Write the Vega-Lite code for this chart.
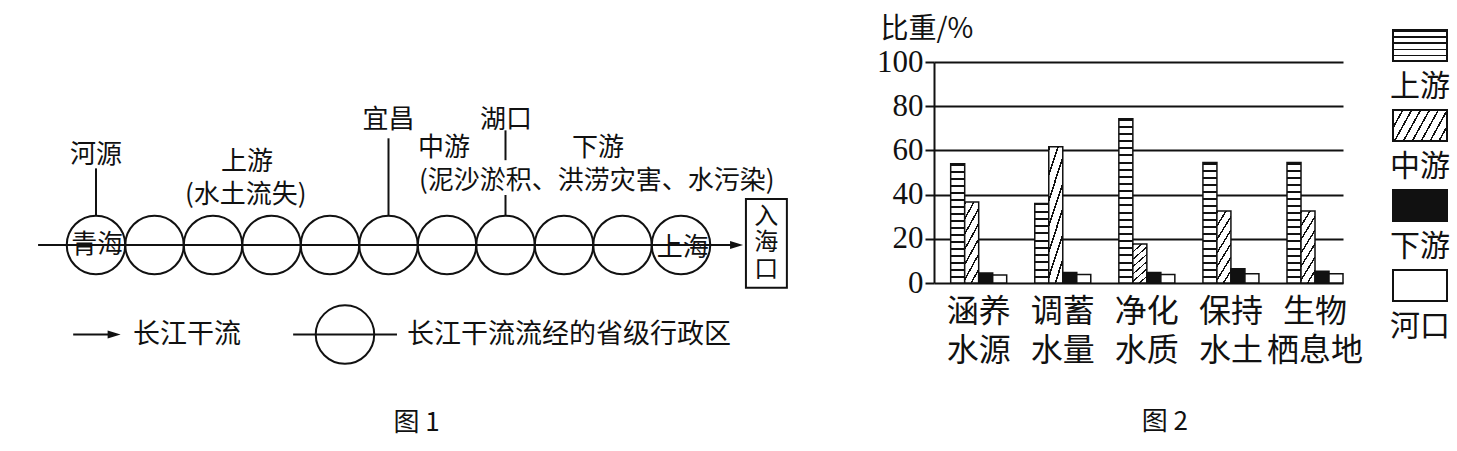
{
"$schema": "https://vega.github.io/schema/vega-lite/v6.json",
"width": 1457, "height": 451, "padding": 0,
"autosize": {"type": "fit", "contains": "padding"},
"background": "white",
"config": {"view": {"stroke": null}, "font": "Noto Sans CJK SC"},
"datasets": {
 "bars": [
  {"func":"涵养水源","seg":"上游","v":54},{"func":"涵养水源","seg":"中游","v":36.6},{"func":"涵养水源","seg":"下游","v":4.5},{"func":"涵养水源","seg":"河口","v":3.6},
  {"func":"调蓄水量","seg":"上游","v":36},{"func":"调蓄水量","seg":"中游","v":61.6},{"func":"调蓄水量","seg":"下游","v":4.7},{"func":"调蓄水量","seg":"河口","v":3.8},
  {"func":"净化水质","seg":"上游","v":74.3},{"func":"净化水质","seg":"中游","v":17.7},{"func":"净化水质","seg":"下游","v":4.8},{"func":"净化水质","seg":"河口","v":3.8},
  {"func":"保持水土","seg":"上游","v":54.5},{"func":"保持水土","seg":"中游","v":32.6},{"func":"保持水土","seg":"下游","v":6.5},{"func":"保持水土","seg":"河口","v":4.2},
  {"func":"生物栖息地","seg":"上游","v":54.5},{"func":"生物栖息地","seg":"中游","v":32.6},{"func":"生物栖息地","seg":"下游","v":5.3},{"func":"生物栖息地","seg":"河口","v":4.2}
 ],
 "legend": [{"seg":"上游"},{"seg":"中游"},{"seg":"下游"},{"seg":"河口"}],
 "hlines": [{"x0":-0.99,"x1":10.9,"y":0},{"x0":-0.39,"x1":0.25,"y":-1.53},{"x0":3.37,"x1":5.145,"y":-1.53}],
 "vlines": [{"x":0,"y0":1.31,"y1":0.5},{"x":5,"y0":1.824,"y1":0.5},{"x":7,"y0":1.96,"y1":1.45},{"x":7,"y0":0.855,"y1":0.5}],
 "arrows": [{"x":10.95,"y":0},{"x":0.31,"y":-1.53}],
 "circles": [{"x":0,"y":0},{"x":1,"y":0},{"x":2,"y":0},{"x":3,"y":0},{"x":4,"y":0},{"x":5,"y":0},{"x":6,"y":0},{"x":7,"y":0},{"x":8,"y":0},{"x":9,"y":0},{"x":10,"y":0},{"x":4.256,"y":-1.53}],
 "box": [{"x0":11.11,"x1":11.81,"y0":0.786,"y1":-0.73}],
 "ctexts": [
  {"x":0.02,"y":0,"t":"青海"},{"x":10.03,"y":-0.05,"t":"上海"},{"x":0,"y":1.538,"t":"河源"},
  {"x":2.58,"y":1.419,"t":"上游"},{"x":2.56,"y":0.855,"t":"(水土流失)"},
  {"x":5,"y":2.137,"t":"宜昌"},{"x":7.01,"y":2.137,"t":"湖口"},
  {"x":5.95,"y":1.66,"t":"中游"},{"x":8.58,"y":1.66,"t":"下游"},
  {"x":8.56,"y":1.1,"t":"(泥沙淤积、洪涝灾害、水污染)"},
  {"x":5.479,"y":-3.043,"t":"图 1"},{"x":18.27,"y":-3.02,"t":"图 2"}
 ],
 "boxtexts": [{"x":11.456,"y":0.484,"t":"入\n海\n口"}],
 "ltexts": [{"x":0.632,"y":-1.53,"t":"长江干流"},{"x":5.316,"y":-1.53,"t":"长江干流流经的省级行政区"}]
},
"layer": [
 {
  "layer": [
   {"data":{"name":"hlines"},"mark":{"type":"rule","stroke":"#111","strokeWidth":2},
    "encoding":{"x":{"field":"x0","type":"quantitative","scale":{"domain":[-1.641,23.265],"range":[0,1457],"nice":false,"zero":false},"axis":null},"x2":{"field":"x1"},
     "y":{"field":"y","type":"quantitative","scale":{"domain":[-3.521,4.188],"range":[451,0],"nice":false,"zero":false},"axis":null}}},
   {"data":{"name":"vlines"},"mark":{"type":"rule","stroke":"#111","strokeWidth":2},
    "encoding":{"x":{"field":"x","type":"quantitative","scale":{"domain":[-1.641,23.265],"range":[0,1457],"nice":false,"zero":false},"axis":null},
     "y":{"field":"y0","type":"quantitative","scale":{"domain":[-3.521,4.188],"range":[451,0],"nice":false,"zero":false},"axis":null},"y2":{"field":"y1"}}},
   {"data":{"name":"circles"},"mark":{"type":"point","shape":"circle","filled":false,"stroke":"#111","strokeWidth":2,"opacity":1,"size":3422},
    "encoding":{"x":{"field":"x","type":"quantitative","scale":{"domain":[-1.641,23.265],"range":[0,1457],"nice":false,"zero":false},"axis":null},
     "y":{"field":"y","type":"quantitative","scale":{"domain":[-3.521,4.188],"range":[451,0],"nice":false,"zero":false},"axis":null}}},
   {"data":{"name":"arrows"},"mark":{"type":"point","shape":"M-1,-0.6L1,0L-1,0.6Z","filled":true,"fill":"#111","stroke":null,"opacity":1,"size":169},
    "encoding":{"x":{"field":"x","type":"quantitative","scale":{"domain":[-1.641,23.265],"range":[0,1457],"nice":false,"zero":false},"axis":null},
     "y":{"field":"y","type":"quantitative","scale":{"domain":[-3.521,4.188],"range":[451,0],"nice":false,"zero":false},"axis":null}}},
   {"data":{"name":"box"},"mark":{"type":"rect","fill":"#fff","stroke":"#111","strokeWidth":2},
    "encoding":{"x":{"field":"x0","type":"quantitative","scale":{"domain":[-1.641,23.265],"range":[0,1457],"nice":false,"zero":false},"axis":null},"x2":{"field":"x1"},
     "y":{"field":"y0","type":"quantitative","scale":{"domain":[-3.521,4.188],"range":[451,0],"nice":false,"zero":false},"axis":null},"y2":{"field":"y1"}}},
   {"data":{"name":"ctexts"},"mark":{"type":"text","align":"center","baseline":"middle","fontSize":26,"font":"Noto Sans CJK SC","color":"#111"},
    "encoding":{"x":{"field":"x","type":"quantitative","scale":{"domain":[-1.641,23.265],"range":[0,1457],"nice":false,"zero":false},"axis":null},
     "y":{"field":"y","type":"quantitative","scale":{"domain":[-3.521,4.188],"range":[451,0],"nice":false,"zero":false},"axis":null},"text":{"field":"t"}}},
   {"data":{"name":"boxtexts"},"mark":{"type":"text","align":"center","baseline":"middle","fontSize":24,"lineHeight":26.5,"lineBreak":"\n","font":"Noto Sans CJK SC","color":"#111"},
    "encoding":{"x":{"field":"x","type":"quantitative","scale":{"domain":[-1.641,23.265],"range":[0,1457],"nice":false,"zero":false},"axis":null},
     "y":{"field":"y","type":"quantitative","scale":{"domain":[-3.521,4.188],"range":[451,0],"nice":false,"zero":false},"axis":null},"text":{"field":"t"}}},
   {"data":{"name":"ltexts"},"mark":{"type":"text","align":"left","baseline":"middle","fontSize":27,"font":"Noto Sans CJK SC","color":"#111"},
    "encoding":{"x":{"field":"x","type":"quantitative","scale":{"domain":[-1.641,23.265],"range":[0,1457],"nice":false,"zero":false},"axis":null},
     "y":{"field":"y","type":"quantitative","scale":{"domain":[-3.521,4.188],"range":[451,0],"nice":false,"zero":false},"axis":null},"text":{"field":"t"}}}
  ]
 },
 {
  "data": {"name":"bars"},
  "mark": {"type":"bar","stroke":"#111","strokeWidth":1.5},
  "encoding": {
   "x": {"field":"func","type":"nominal","sort":null,
    "scale":{"range":[934,1343],"paddingInner":0.334,"paddingOuter":0.0993,"align":1},
    "axis":{"orient":"bottom","offset":-168,"title":null,"domain":false,"ticks":false,"tickSize":0,"grid":false,"labelAngle":0,"labelFontSize":32,"labelFont":"Noto Sans CJK SC","labelColor":"#111","labelPadding":13,"labelLineHeight":39,"labelExpr":"[substring(datum.label,0,2), substring(datum.label,2)]"}},
   "xOffset": {"field":"seg","type":"nominal","scale":{"domain":["上游","中游","下游","河口"],"paddingInner":0,"paddingOuter":0}},
   "y": {"field":"v","type":"quantitative","scale":{"domain":[0,100],"range":[283,62],"nice":false},
    "axis":{"orient":"left","offset":-934,"values":[0,20,40,60,80,100],"grid":true,"gridColor":"#111","gridWidth":2,"gridOpacity":1,"domainColor":"#111","domainWidth":2,"tickColor":"#111","tickWidth":2,"tickSize":9,"labelFont":"Liberation Serif","labelFontSize":31,"labelColor":"#111","labelPadding":2,"labelFlush":false,"labelOverlap":false,"title":"比重/%","titleAngle":0,"titleX":-54,"titleY":29,"titleAlign":"left","titleBaseline":"middle","titleFont":"Noto Sans CJK SC","titleFontSize":28,"titleFontWeight":"normal","titleColor":"#111"}},
   "fill": {"condition": [
     {"test":"datum.seg === '上游' && datum.v < 45","value":{"gradient":"linear","x1":0,"y1":0,"x2":0,"y2":1,"stops":[
      {"offset":0,"color":"#111"},{"offset":0.0255,"color":"#111"},{"offset":0.0255,"color":"#fff"},{"offset":0.0909,"color":"#fff"},
      {"offset":0.0909,"color":"#111"},{"offset":0.1164,"color":"#111"},{"offset":0.1164,"color":"#fff"},{"offset":0.1818,"color":"#fff"},
      {"offset":0.1818,"color":"#111"},{"offset":0.2073,"color":"#111"},{"offset":0.2073,"color":"#fff"},{"offset":0.2727,"color":"#fff"},
      {"offset":0.2727,"color":"#111"},{"offset":0.2982,"color":"#111"},{"offset":0.2982,"color":"#fff"},{"offset":0.3636,"color":"#fff"},
      {"offset":0.3636,"color":"#111"},{"offset":0.3891,"color":"#111"},{"offset":0.3891,"color":"#fff"},{"offset":0.4545,"color":"#fff"},
      {"offset":0.4545,"color":"#111"},{"offset":0.48,"color":"#111"},{"offset":0.48,"color":"#fff"},{"offset":0.5455,"color":"#fff"},
      {"offset":0.5455,"color":"#111"},{"offset":0.571,"color":"#111"},{"offset":0.571,"color":"#fff"},{"offset":0.6364,"color":"#fff"},
      {"offset":0.6364,"color":"#111"},{"offset":0.6619,"color":"#111"},{"offset":0.6619,"color":"#fff"},{"offset":0.7273,"color":"#fff"},
      {"offset":0.7273,"color":"#111"},{"offset":0.7528,"color":"#111"},{"offset":0.7528,"color":"#fff"},{"offset":0.8182,"color":"#fff"},
      {"offset":0.8182,"color":"#111"},{"offset":0.8437,"color":"#111"},{"offset":0.8437,"color":"#fff"},{"offset":0.9091,"color":"#fff"},
      {"offset":0.9091,"color":"#111"},{"offset":0.9346,"color":"#111"},{"offset":0.9346,"color":"#fff"},{"offset":1,"color":"#fff"}]}},
     {"test":"datum.seg === '上游' && datum.v > 65","value":{"gradient":"linear","x1":0,"y1":0,"x2":0,"y2":1,"stops":[
      {"offset":0,"color":"#111"},{"offset":0.0122,"color":"#111"},{"offset":0.0122,"color":"#fff"},{"offset":0.0435,"color":"#fff"},
      {"offset":0.0435,"color":"#111"},{"offset":0.0557,"color":"#111"},{"offset":0.0557,"color":"#fff"},{"offset":0.087,"color":"#fff"},
      {"offset":0.087,"color":"#111"},{"offset":0.0991,"color":"#111"},{"offset":0.0991,"color":"#fff"},{"offset":0.1304,"color":"#fff"},
      {"offset":0.1304,"color":"#111"},{"offset":0.1426,"color":"#111"},{"offset":0.1426,"color":"#fff"},{"offset":0.1739,"color":"#fff"},
      {"offset":0.1739,"color":"#111"},{"offset":0.1861,"color":"#111"},{"offset":0.1861,"color":"#fff"},{"offset":0.2174,"color":"#fff"},
      {"offset":0.2174,"color":"#111"},{"offset":0.2296,"color":"#111"},{"offset":0.2296,"color":"#fff"},{"offset":0.2609,"color":"#fff"},
      {"offset":0.2609,"color":"#111"},{"offset":0.273,"color":"#111"},{"offset":0.273,"color":"#fff"},{"offset":0.3043,"color":"#fff"},
      {"offset":0.3043,"color":"#111"},{"offset":0.3165,"color":"#111"},{"offset":0.3165,"color":"#fff"},{"offset":0.3478,"color":"#fff"},
      {"offset":0.3478,"color":"#111"},{"offset":0.36,"color":"#111"},{"offset":0.36,"color":"#fff"},{"offset":0.3913,"color":"#fff"},
      {"offset":0.3913,"color":"#111"},{"offset":0.4035,"color":"#111"},{"offset":0.4035,"color":"#fff"},{"offset":0.4348,"color":"#fff"},
      {"offset":0.4348,"color":"#111"},{"offset":0.447,"color":"#111"},{"offset":0.447,"color":"#fff"},{"offset":0.4783,"color":"#fff"},
      {"offset":0.4783,"color":"#111"},{"offset":0.4904,"color":"#111"},{"offset":0.4904,"color":"#fff"},{"offset":0.5217,"color":"#fff"},
      {"offset":0.5217,"color":"#111"},{"offset":0.5339,"color":"#111"},{"offset":0.5339,"color":"#fff"},{"offset":0.5652,"color":"#fff"},
      {"offset":0.5652,"color":"#111"},{"offset":0.5774,"color":"#111"},{"offset":0.5774,"color":"#fff"},{"offset":0.6087,"color":"#fff"},
      {"offset":0.6087,"color":"#111"},{"offset":0.6209,"color":"#111"},{"offset":0.6209,"color":"#fff"},{"offset":0.6522,"color":"#fff"},
      {"offset":0.6522,"color":"#111"},{"offset":0.6643,"color":"#111"},{"offset":0.6643,"color":"#fff"},{"offset":0.6957,"color":"#fff"},
      {"offset":0.6957,"color":"#111"},{"offset":0.7078,"color":"#111"},{"offset":0.7078,"color":"#fff"},{"offset":0.7391,"color":"#fff"},
      {"offset":0.7391,"color":"#111"},{"offset":0.7513,"color":"#111"},{"offset":0.7513,"color":"#fff"},{"offset":0.7826,"color":"#fff"},
      {"offset":0.7826,"color":"#111"},{"offset":0.7948,"color":"#111"},{"offset":0.7948,"color":"#fff"},{"offset":0.8261,"color":"#fff"},
      {"offset":0.8261,"color":"#111"},{"offset":0.8383,"color":"#111"},{"offset":0.8383,"color":"#fff"},{"offset":0.8696,"color":"#fff"},
      {"offset":0.8696,"color":"#111"},{"offset":0.8817,"color":"#111"},{"offset":0.8817,"color":"#fff"},{"offset":0.913,"color":"#fff"},
      {"offset":0.913,"color":"#111"},{"offset":0.9252,"color":"#111"},{"offset":0.9252,"color":"#fff"},{"offset":0.9565,"color":"#fff"},
      {"offset":0.9565,"color":"#111"},{"offset":0.9687,"color":"#111"},{"offset":0.9687,"color":"#fff"},{"offset":1,"color":"#fff"}]}},
     {"test":"datum.seg === '上游'","value":{"gradient":"linear","x1":0,"y1":0,"x2":0,"y2":1,"stops":[
      {"offset":0,"color":"#111"},{"offset":0.0165,"color":"#111"},{"offset":0.0165,"color":"#fff"},{"offset":0.0588,"color":"#fff"},
      {"offset":0.0588,"color":"#111"},{"offset":0.0753,"color":"#111"},{"offset":0.0753,"color":"#fff"},{"offset":0.1176,"color":"#fff"},
      {"offset":0.1176,"color":"#111"},{"offset":0.1341,"color":"#111"},{"offset":0.1341,"color":"#fff"},{"offset":0.1765,"color":"#fff"},
      {"offset":0.1765,"color":"#111"},{"offset":0.1929,"color":"#111"},{"offset":0.1929,"color":"#fff"},{"offset":0.2353,"color":"#fff"},
      {"offset":0.2353,"color":"#111"},{"offset":0.2518,"color":"#111"},{"offset":0.2518,"color":"#fff"},{"offset":0.2941,"color":"#fff"},
      {"offset":0.2941,"color":"#111"},{"offset":0.3106,"color":"#111"},{"offset":0.3106,"color":"#fff"},{"offset":0.3529,"color":"#fff"},
      {"offset":0.3529,"color":"#111"},{"offset":0.3694,"color":"#111"},{"offset":0.3694,"color":"#fff"},{"offset":0.4118,"color":"#fff"},
      {"offset":0.4118,"color":"#111"},{"offset":0.4282,"color":"#111"},{"offset":0.4282,"color":"#fff"},{"offset":0.4706,"color":"#fff"},
      {"offset":0.4706,"color":"#111"},{"offset":0.4871,"color":"#111"},{"offset":0.4871,"color":"#fff"},{"offset":0.5294,"color":"#fff"},
      {"offset":0.5294,"color":"#111"},{"offset":0.5459,"color":"#111"},{"offset":0.5459,"color":"#fff"},{"offset":0.5882,"color":"#fff"},
      {"offset":0.5882,"color":"#111"},{"offset":0.6047,"color":"#111"},{"offset":0.6047,"color":"#fff"},{"offset":0.6471,"color":"#fff"},
      {"offset":0.6471,"color":"#111"},{"offset":0.6635,"color":"#111"},{"offset":0.6635,"color":"#fff"},{"offset":0.7059,"color":"#fff"},
      {"offset":0.7059,"color":"#111"},{"offset":0.7224,"color":"#111"},{"offset":0.7224,"color":"#fff"},{"offset":0.7647,"color":"#fff"},
      {"offset":0.7647,"color":"#111"},{"offset":0.7812,"color":"#111"},{"offset":0.7812,"color":"#fff"},{"offset":0.8235,"color":"#fff"},
      {"offset":0.8235,"color":"#111"},{"offset":0.84,"color":"#111"},{"offset":0.84,"color":"#fff"},{"offset":0.8824,"color":"#fff"},
      {"offset":0.8824,"color":"#111"},{"offset":0.8988,"color":"#111"},{"offset":0.8988,"color":"#fff"},{"offset":0.9412,"color":"#fff"},
      {"offset":0.9412,"color":"#111"},{"offset":0.9576,"color":"#111"},{"offset":0.9576,"color":"#fff"},{"offset":1,"color":"#fff"}]}},
     {"test":"datum.seg === '中游'","value":{"gradient":"linear","x1":0,"y1":0,"x2":0.377,"y2":1.196,"stops":[
      {"offset":0,"color":"#111"},{"offset":0.0286,"color":"#111"},{"offset":0.0286,"color":"#fff"},{"offset":0.1429,"color":"#fff"},
      {"offset":0.1429,"color":"#111"},{"offset":0.1714,"color":"#111"},{"offset":0.1714,"color":"#fff"},{"offset":0.2857,"color":"#fff"},
      {"offset":0.2857,"color":"#111"},{"offset":0.3143,"color":"#111"},{"offset":0.3143,"color":"#fff"},{"offset":0.4286,"color":"#fff"},
      {"offset":0.4286,"color":"#111"},{"offset":0.4571,"color":"#111"},{"offset":0.4571,"color":"#fff"},{"offset":0.5714,"color":"#fff"},
      {"offset":0.5714,"color":"#111"},{"offset":0.6,"color":"#111"},{"offset":0.6,"color":"#fff"},{"offset":0.7143,"color":"#fff"},
      {"offset":0.7143,"color":"#111"},{"offset":0.7429,"color":"#111"},{"offset":0.7429,"color":"#fff"},{"offset":0.8571,"color":"#fff"},
      {"offset":0.8571,"color":"#111"},{"offset":0.8857,"color":"#111"},{"offset":0.8857,"color":"#fff"},{"offset":1,"color":"#fff"}]}},
     {"test":"datum.seg === '下游'","value":"#111"}
    ],
    "value":"#fff"}
  }
 },
 {
  "data": {"name":"legend"},
  "layer": [
   {"mark":{"type":"rect","stroke":"#111","strokeWidth":2},
    "encoding":{
     "x":{"datum":0,"type":"quantitative","scale":{"domain":[0,1],"range":[1393,1447],"nice":false,"zero":false},"axis":null},
     "x2":{"datum":1},
     "y":{"field":"seg","type":"nominal","sort":null,"scale":{"domain":["上游","中游","下游","河口"],"range":[30,301],"paddingInner":0.6125,"paddingOuter":0},"axis":null},
     "fill":{"condition":[
      {"test":"datum.seg === '上游'","value":{"gradient":"linear","x1":0,"y1":0,"x2":0,"y2":1,"stops":[
       {"offset":0,"color":"#111"},{"offset":0.05,"color":"#111"},{"offset":0.05,"color":"#fff"},{"offset":0.2,"color":"#fff"},
       {"offset":0.2,"color":"#111"},{"offset":0.25,"color":"#111"},{"offset":0.25,"color":"#fff"},{"offset":0.4,"color":"#fff"},
       {"offset":0.4,"color":"#111"},{"offset":0.45,"color":"#111"},{"offset":0.45,"color":"#fff"},{"offset":0.6,"color":"#fff"},
       {"offset":0.6,"color":"#111"},{"offset":0.65,"color":"#111"},{"offset":0.65,"color":"#fff"},{"offset":0.8,"color":"#fff"},
       {"offset":0.8,"color":"#111"},{"offset":0.85,"color":"#111"},{"offset":0.85,"color":"#fff"},{"offset":1,"color":"#fff"}]}},
      {"test":"datum.seg === '中游'","value":{"gradient":"linear","x1":0,"y1":0,"x2":1.197,"y2":0.382,"stops":[
       {"offset":0,"color":"#111"},{"offset":0.025,"color":"#111"},{"offset":0.025,"color":"#fff"},{"offset":0.125,"color":"#fff"},
       {"offset":0.125,"color":"#111"},{"offset":0.15,"color":"#111"},{"offset":0.15,"color":"#fff"},{"offset":0.25,"color":"#fff"},
       {"offset":0.25,"color":"#111"},{"offset":0.275,"color":"#111"},{"offset":0.275,"color":"#fff"},{"offset":0.375,"color":"#fff"},
       {"offset":0.375,"color":"#111"},{"offset":0.4,"color":"#111"},{"offset":0.4,"color":"#fff"},{"offset":0.5,"color":"#fff"},
       {"offset":0.5,"color":"#111"},{"offset":0.525,"color":"#111"},{"offset":0.525,"color":"#fff"},{"offset":0.625,"color":"#fff"},
       {"offset":0.625,"color":"#111"},{"offset":0.65,"color":"#111"},{"offset":0.65,"color":"#fff"},{"offset":0.75,"color":"#fff"},
       {"offset":0.75,"color":"#111"},{"offset":0.775,"color":"#111"},{"offset":0.775,"color":"#fff"},{"offset":0.875,"color":"#fff"},
       {"offset":0.875,"color":"#111"},{"offset":0.9,"color":"#111"},{"offset":0.9,"color":"#fff"},{"offset":1,"color":"#fff"}]}},
      {"test":"datum.seg === '下游'","value":"#111"}],
      "value":"#fff"}
    }},
   {"mark":{"type":"text","dy":41.5,"fontSize":30,"font":"Noto Sans CJK SC","color":"#111","baseline":"middle","align":"center"},
    "encoding":{
     "x":{"datum":0.5,"type":"quantitative","scale":{"domain":[0,1],"range":[1393,1447],"nice":false,"zero":false},"axis":null},
     "y":{"field":"seg","type":"nominal","sort":null,"scale":{"domain":["上游","中游","下游","河口"],"range":[30,301],"paddingInner":0.6125,"paddingOuter":0},"axis":null},
     "text":{"field":"seg"}}}
  ]
 }
],
"resolve": {"scale": {"x":"independent","y":"independent"}}
}
